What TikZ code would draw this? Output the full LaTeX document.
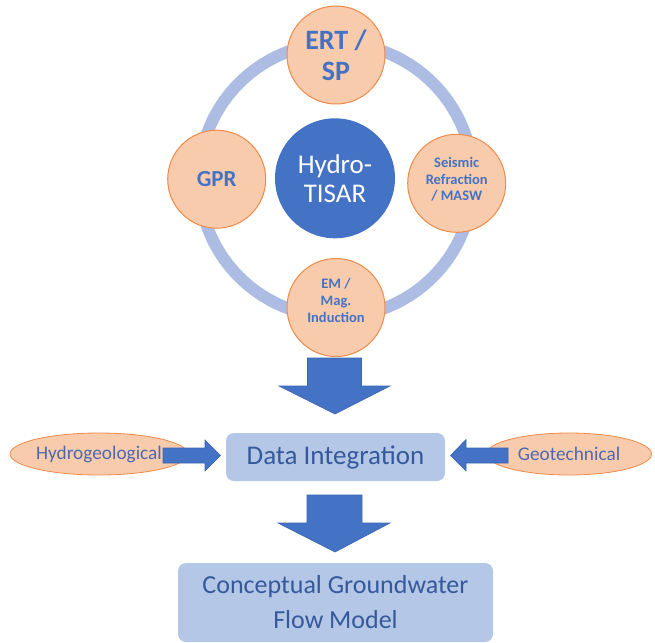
\documentclass[tikz,border=0pt]{standalone}
\usepackage{fontspec}
\setmainfont{Carlito}
\usetikzlibrary{shapes.geometric}
\definecolor{orfill}{HTML}{F8CBAD}
\definecolor{ordraw}{HTML}{EE8A4A}
\definecolor{mainblue}{HTML}{4472C4}
\definecolor{arrowedge}{HTML}{3A64B0}
\definecolor{ringcol}{HTML}{ACBCE3}
\definecolor{boxfill}{HTML}{B4C7E7}
\definecolor{boxtext}{HTML}{35599A}
\definecolor{elltext}{HTML}{5069AE}
\tikzset{
  orangecirc/.style={circle, fill=orfill, draw=ordraw, line width=1pt, inner sep=0pt,
    minimum size=98pt, align=center, text=mainblue},
  circtext/.style={align=center, text=mainblue, inner sep=0pt},
  hubcirc/.style={circle, fill=mainblue, inner sep=0pt, minimum size=120pt, align=center,
    text=white, font=\fontsize{27}{29}\selectfont},
  ringline/.style={draw=ringcol, line width=12pt},
  infobox/.style={rectangle, rounded corners=8pt, fill=boxfill, inner sep=0pt, align=center,
    text=boxtext},
  sourceell/.style={ellipse, fill=orfill, draw=ordraw, line width=0.8pt, inner sep=0pt,
    minimum width=165pt, minimum height=42pt, text=elltext, font=\fontsize{19.3}{21}\selectfont},
  blockarrow/.style={fill=mainblue, draw=arrowedge, line width=0.6pt, line join=miter}
}
\begin{document}
\begin{tikzpicture}[x=1pt,y=-1pt]
\useasboundingbox (0,0) rectangle (655,642);
% ring
\coordinate (ringc) at (336,180);
\draw[ringline] (ringc) circle[radius=137pt];
% hub
\node[hubcirc] (hub) at (335,178.3) {Hydro-\\TISAR};
% methods
\node[orangecirc, font=\fontsize{28}{31}\selectfont\bfseries] (ert) at (336,55) {ERT /\\SP};
\node[orangecirc, font=\fontsize{23}{25}\selectfont\bfseries] (gpr) at (216.7,179.2) {GPR};
\node[orangecirc] (seis) at (456.7,183.3) {};
\node[circtext, font=\fontsize{14.5}{16.7}\selectfont\bfseries] (seistext) at ([yshift=4pt]seis.center) {Seismic\\Refraction\\/ MASW};
\node[orangecirc] (em) at (336,307.5) {};
\node[circtext, font=\fontsize{14.5}{17}\selectfont\bfseries] (emtext) at ([yshift=7pt]em.center) {EM /\\Mag.\\Induction};
% boxes
\node[infobox, minimum width=219pt, minimum height=48pt, font=\fontsize{27}{30}\selectfont] (data) at (335.5,457) {Data Integration};
\node[infobox, minimum width=315pt, minimum height=79pt, font=\fontsize{26}{35}\selectfont] (model) at (335.5,602.5) {Conceptual Groundwater\\Flow Model};
% side sources
\node[sourceell] (hydgeo) at (99,454) {Hydrogeological};
\node[sourceell] (geotech) at (569,454) {Geotechnical};
% block arrows
\draw[blockarrow] (307.5,358) -- (361.5,358) -- (361.5,386) -- (390,386) -- (335,414) -- (279,386) -- (307.5,386) -- cycle;
\draw[blockarrow] (307,495) -- (362,495) -- (362,523) -- (390,523) -- (335,552) -- (278,523) -- (307,523) -- cycle;
\draw[blockarrow] (163,448) -- (205,448) -- (205,440) -- (220.5,455.5) -- (205,471) -- (205,463) -- (163,463) -- cycle;
\draw[blockarrow] (508,448) -- (466,448) -- (466,439.5) -- (450.5,455.5) -- (466,471) -- (466,463) -- (508,463) -- cycle;
\end{tikzpicture}
\end{document}
